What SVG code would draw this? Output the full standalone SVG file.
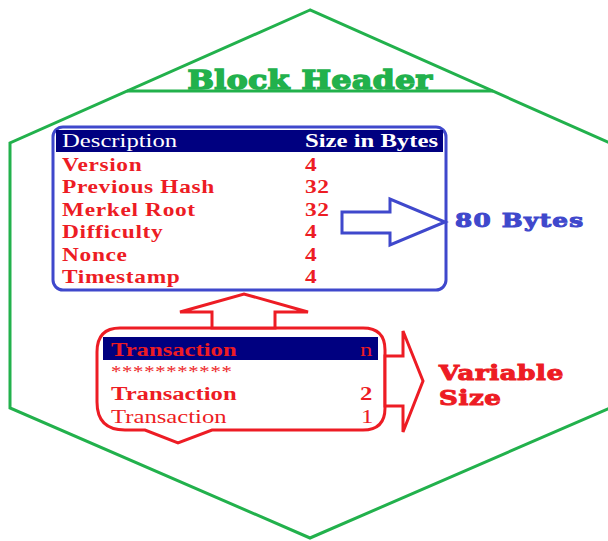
<svg xmlns="http://www.w3.org/2000/svg" width="608" height="541" viewBox="0 0 608 541">
<style>
.hex{fill:none;stroke:#22b14c;stroke-width:3}
.heavy{font-family:"DejaVu Serif",serif;font-weight:bold}
.ser{font-family:"Liberation Serif","Times New Roman",serif}
.row{font-family:"Liberation Serif",serif;font-weight:bold;font-size:18px;fill:#ed1c24;letter-spacing:0.5px}
.blue{stroke:#3f48cc;stroke-width:3;fill:#fff}
.red{stroke:#ed1c24;stroke-width:3;fill:#fff}
</style>
<rect width="608" height="541" fill="#fff"/>
<g id="hexagon">
<polygon class="hex" points="310,10 10,143 10,408 310,538 610,408 610,143"/>
<line x1="127" y1="91" x2="493" y2="91" stroke="#22b14c" stroke-width="3"/>
<text class="heavy" transform="translate(310,89) scale(1.2,1)" text-anchor="middle" font-size="26" fill="#22b14c" stroke="#22b14c" stroke-width="1.6" letter-spacing="0.5">Block Header</text>
</g>
<g id="block-header">
<rect x="53" y="127" width="393" height="163" rx="10" class="blue"/>
<rect x="56" y="130" width="387" height="22" fill="#000080"/>
<text class="ser" transform="translate(62,147) scale(1.3,1)" font-size="19" fill="#fff">Description</text>
<text class="ser" transform="translate(305,147) scale(1.3,1)" font-size="19" font-weight="bold" fill="#fff">Size in Bytes</text>
<text class="row" transform="translate(62,171) scale(1.3,1)">Version</text>
<text class="row" transform="translate(62,193) scale(1.3,1)">Previous Hash</text>
<text class="row" transform="translate(62,216) scale(1.3,1)">Merkel Root</text>
<text class="row" transform="translate(62,238) scale(1.3,1)">Difficulty</text>
<text class="row" transform="translate(62,261) scale(1.3,1)">Nonce</text>
<text class="row" transform="translate(62,283) scale(1.3,1)">Timestamp</text>
<text class="row" transform="translate(305,171) scale(1.3,1)">4</text>
<text class="row" transform="translate(305,193) scale(1.3,1)">32</text>
<text class="row" transform="translate(305,216) scale(1.3,1)">32</text>
<text class="row" transform="translate(305,238) scale(1.3,1)">4</text>
<text class="row" transform="translate(305,261) scale(1.3,1)">4</text>
<text class="row" transform="translate(305,283) scale(1.3,1)">4</text>
</g>
<g id="transactions">
<path class="red" d="M120,328 H363 Q385,328 385,350 V408 Q385,430 363,430 H212 L178,443 L145,430 H125 Q97,430 97,402 V352 Q97,328 120,328 Z"/>
<rect x="103" y="337" width="275" height="23" fill="#000080"/>
<text class="ser" transform="translate(111,356) scale(1.3,1)" font-size="19" font-weight="bold" fill="#ed1c24">Transaction</text>
<text class="ser" transform="translate(360,356) scale(1.3,1)" font-size="19" fill="#ed1c24">n</text>
<text class="ser" transform="translate(111,377) scale(1.3,1)" font-size="16" fill="#ed1c24" letter-spacing="0.5">***********</text>
<text class="ser" transform="translate(111,400) scale(1.3,1)" font-size="19" font-weight="bold" fill="#ed1c24">Transaction</text>
<text class="ser" transform="translate(360,400) scale(1.3,1)" font-size="19" font-weight="bold" fill="#ed1c24">2</text>
<text class="ser" transform="translate(111,423) scale(1.3,1)" font-size="19" fill="#ed1c24">Transaction</text>
<text class="ser" transform="translate(361,423) scale(1.3,1)" font-size="19" fill="#ed1c24">1</text>
</g>
<g id="connectors">
<polygon class="blue" points="342,212 390,212 390,199 445,222 390,245 390,233 342,233"/>
<polygon class="red" points="212,328 212,312 180,312 244,294 308,312 275,312 275,328"/>
<polygon class="red" points="385,356 403,356 403,331 423,381 403,432 403,406 385,406"/>
</g>
<g id="labels">
<text class="heavy" transform="translate(455,227) scale(1.3,1)" font-size="19" fill="#3f48cc" stroke="#3f48cc" stroke-width="1" letter-spacing="1">80 Bytes</text>
<text class="heavy" transform="translate(439,380) scale(1.3,1)" font-size="20" fill="#ed1c24" stroke="#ed1c24" stroke-width="1" letter-spacing="0.5">Variable</text>
<text class="heavy" transform="translate(439,405) scale(1.3,1)" font-size="20" fill="#ed1c24" stroke="#ed1c24" stroke-width="1" letter-spacing="0.5">Size</text>
</g>
</svg>
